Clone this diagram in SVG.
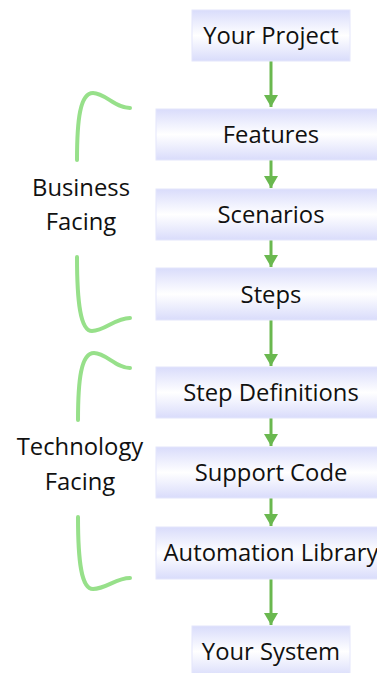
<svg xmlns="http://www.w3.org/2000/svg" width="377" height="673" viewBox="0 0 377 673">
<defs>
<linearGradient id="g" x1="0" y1="0" x2="0" y2="1">
<stop offset="0" stop-color="#d9dcfb"/>
<stop offset="0.5" stop-color="#ffffff"/>
<stop offset="1" stop-color="#d9dcfb"/>
</linearGradient>
<marker id="ah" markerWidth="12" markerHeight="14" refX="12" refY="7" orient="auto" markerUnits="userSpaceOnUse">
<path d="M0,0 L12,7 L0,14 Z" fill="#6ab84f"/>
</marker>
</defs>
<style>
.box{fill:url(#g);stroke:#e4e6fb;stroke-width:1}
.t{font-family:"Open Sans","Noto Sans",sans-serif;font-size:23.8px;fill:#111;text-anchor:middle}
.c{stroke:#6ab84f;stroke-width:3;fill:none}
.br{stroke:#97e08a;stroke-width:4;fill:none;stroke-linecap:round}
</style>
<g id="connectors">
<line class="c" x1="271" y1="61" x2="271" y2="107" marker-end="url(#ah)"/>
<line class="c" x1="271" y1="160" x2="271" y2="188" marker-end="url(#ah)"/>
<line class="c" x1="271" y1="240" x2="271" y2="267" marker-end="url(#ah)"/>
<line class="c" x1="271" y1="320" x2="271" y2="366" marker-end="url(#ah)"/>
<line class="c" x1="271" y1="418" x2="271" y2="446" marker-end="url(#ah)"/>
<line class="c" x1="271" y1="498" x2="271" y2="526" marker-end="url(#ah)"/>
<line class="c" x1="271" y1="579" x2="271" y2="625" marker-end="url(#ah)"/>
</g>
<g id="your-project"><rect class="box" x="192" y="10" width="158" height="51"/><text class="t" x="271" y="43.5">Your Project</text></g>
<g id="features"><rect class="box" x="156" y="109" width="230" height="51"/><text class="t" x="271" y="142.5">Features</text></g>
<g id="scenarios"><rect class="box" x="156" y="189" width="230" height="51"/><text class="t" x="271" y="222.5">Scenarios</text></g>
<g id="steps"><rect class="box" x="156" y="268" width="230" height="52"/><text class="t" x="271" y="302.5">Steps</text></g>
<g id="step-definitions"><rect class="box" x="156" y="367" width="230" height="51"/><text class="t" x="271" y="400.5">Step Definitions</text></g>
<g id="support-code"><rect class="box" x="156" y="447" width="230" height="51"/><text class="t" x="271" y="480.5">Support Code</text></g>
<g id="automation-library"><rect class="box" x="156" y="527" width="230" height="52"/><text class="t" x="271" y="560.5">Automation Library</text></g>
<g id="your-system"><rect class="box" x="192" y="626" width="158" height="51"/><text class="t" x="271" y="659.5">Your System</text></g>
<g id="business-facing">
<path class="br" d="M77,160 C77,120 80,93 93,93 C105,93 115,108 130,108"/>
<path class="br" d="M77,257 C77,300 80,331 92,331 C105,331 115,318 130,318"/>
<text class="t" x="81" y="195.5">Business</text>
<text class="t" x="81" y="229.5">Facing</text>
</g>
<g id="technology-facing">
<path class="br" d="M78,420 C78,380 81,353 94,353 C106,353 116,368 130,368"/>
<path class="br" d="M78,517 C78,560 81,589 93,589 C106,589 116,578 130,578"/>
<text class="t" x="80" y="454.5">Technology</text>
<text class="t" x="80" y="489.5">Facing</text>
</g>
</svg>
